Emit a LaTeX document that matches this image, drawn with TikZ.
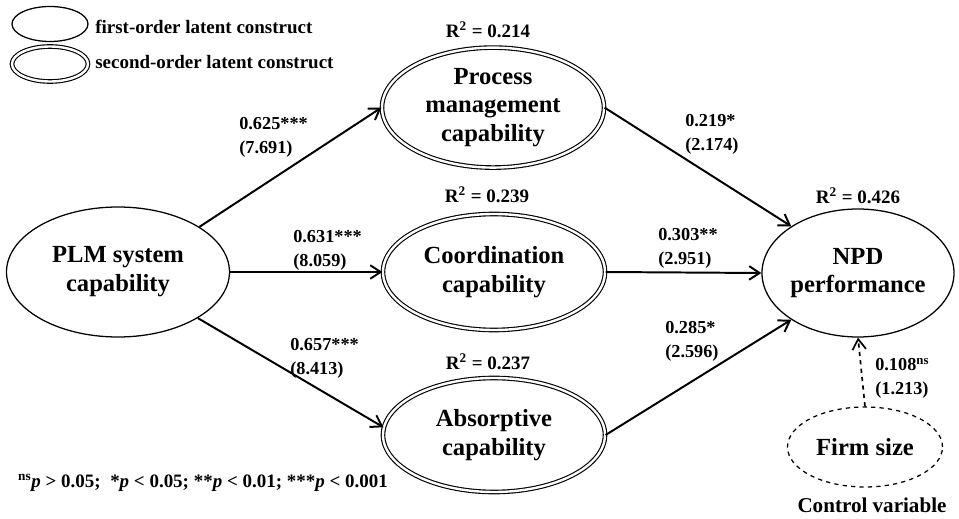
\documentclass[tikz,border=0pt]{standalone}
\usepackage{fontspec}
\setmainfont{Liberation Serif}
\usetikzlibrary{shapes.geometric,arrows.meta,positioning,calc}

\begin{document}
\begin{tikzpicture}[
    construct/.style={ellipse, draw, line width=0.9pt, inner sep=0pt,
                      align=center, font=\fontsize{17.5}{20.5}\selectfont\bfseries},
    second/.style={construct, double, double distance=1.7pt, line width=0.8pt},
    coef/.style={anchor=west, align=left, inner sep=0pt,
                 font=\fontsize{13}{17}\selectfont\bfseries},
    rsq/.style={inner sep=0pt, font=\fontsize{13.5}{16}\selectfont\bfseries},
    path/.style={-{Straight Barb[length=2.6mm,width=3.4mm]}, line width=1.4pt},
]
\useasboundingbox (0,0) rectangle (23.975,12.95);

% --- Legend
\node[construct, minimum width=1.9cm, minimum height=0.875cm] (lfirst) at (1.25,12.35) {};
\node[second, minimum width=1.9cm, minimum height=0.875cm] (lsecond) at (1.25,11.35) {};
\node[rsq, anchor=west] (tfirst) at (2.375,12.28) {first-order latent construct};
\node[rsq, anchor=west] (tsecond) at (2.375,11.4) {second-order latent construct};

% --- Constructs
\node[construct, minimum width=5.575cm, minimum height=3.25cm] (plm) at (2.95,6.15)
    {PLM system\\capability};
\node[second, minimum width=5.55cm, minimum height=3cm] (proc) at (12.325,10.26)
    {Process\\management\\capability};
\node[second, minimum width=5.55cm, minimum height=2.9cm] (coord) at (12.35,6.15)
    {Coordination\\capability};
\node[second, minimum width=5.55cm, minimum height=2.85cm] (absorp) at (12.35,2.075)
    {Absorptive\\capability};
\node[construct, minimum width=4.8cm, minimum height=3.2cm] (npd) at (21.45,6.125)
    {NPD\\performance};
\node[construct, dashed, minimum width=3.875cm, minimum height=2cm] (firm) at (21.625,1.775)
    {Firm size};
\node[rsq, font=\fontsize{15}{18}\selectfont\bfseries] (control) at (21.8,0.325) {Control variable};

% --- Explained variance
\node[rsq] (rproc) at (12.2,12.2) {R\textsuperscript{2} = 0.214};
\node[rsq] (rcoord) at (12.175,8.075) {R\textsuperscript{2} = 0.239};
\node[rsq] (rabsorp) at (12.2,3.9) {R\textsuperscript{2} = 0.237};
\node[rsq] (rnpd) at (21.45,8.05) {R\textsuperscript{2} = 0.426};

% --- Structural paths
\draw[path] (plm.29) -- (proc.west);
\draw[path] (plm.east) -- (coord.west);
\draw[path] (plm.-30) -- (absorp.176);
\draw[path] (proc.east) -- (npd.145);
\draw[path] (coord.east) -- (npd.west);
\draw[path] (absorp.east) -- (npd.215);
\draw[path, dashed, line width=1.2pt] (firm.north) -- (npd.south);

% --- Path coefficients (t-values)
\node[coef] (cproc) at (5.975,9.51) {0.625***\\(7.691)};
\node[coef] (ccoord) at (7.325,6.7) {0.631***\\(8.059)};
\node[coef] (cabsorp) at (7.25,4.0) {0.657***\\(8.413)};
\node[coef] (cpn) at (17.125,9.59) {0.219*\\(2.174)};
\node[coef] (ccn) at (16.45,6.74) {0.303**\\(2.951)};
\node[coef] (can) at (16.625,4.41) {0.285*\\(2.596)};
\node[coef] (cfirm) at (21.875,3.5) {0.108\textsuperscript{ns}\\(1.213)};

% --- Significance note
\node[rsq] (note) at (5.075,0.875)
    {\textsuperscript{ns}\textit{p} > 0.05;~ *\textit{p} < 0.05; **\textit{p} < 0.01; ***\textit{p} < 0.001};
\end{tikzpicture}
\end{document}
